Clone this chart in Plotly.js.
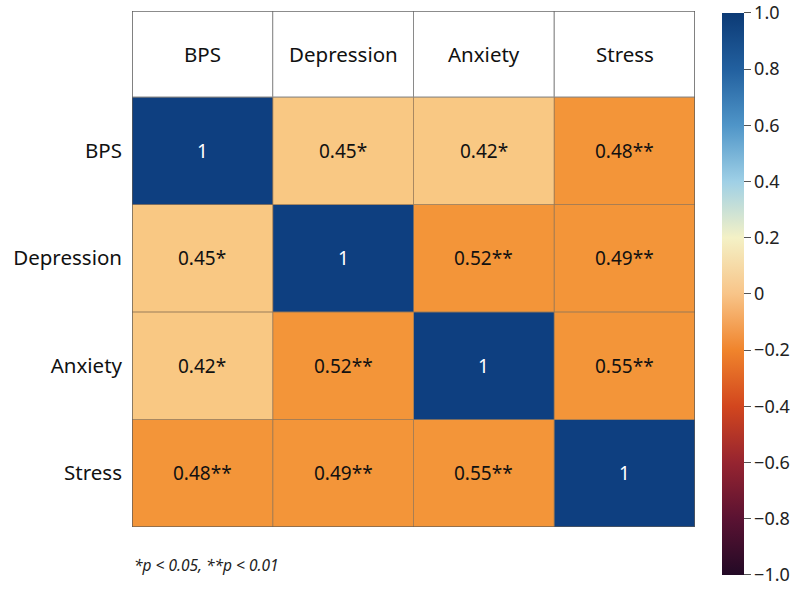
<!DOCTYPE html>
<html>
<head>
<meta charset="utf-8">
<script src="https://cdn.plot.ly/plotly-3.0.1.min.js"></script>
<style>html,body{margin:0;padding:0;background:#fff;}#chart{width:806px;height:589px;}</style>
</head>
<body>
<div id="chart"></div>
<script>
// ---- data ----
const variables = ["BPS", "Depression", "Anxiety", "Stress"];
const correlations = [
  [1, 0.45, 0.42, 0.48],
  [0.45, 1, 0.52, 0.49],
  [0.42, 0.52, 1, 0.55],
  [0.48, 0.49, 0.55, 1]
];
const cellLabels = [
  ["1", "0.45*", "0.42*", "0.48**"],
  ["0.45*", "1", "0.52**", "0.49**"],
  ["0.42*", "0.52**", "1", "0.55**"],
  ["0.48**", "0.49**", "0.55**", "1"]
];
const colorbarTicks = [1.0, 0.8, 0.6, 0.4, 0.2, 0, -0.2, -0.4, -0.6, -0.8, -1.0];
const colorbarTickText = ["1.0", "0.8", "0.6", "0.4", "0.2", "0", "\u22120.2", "\u22120.4", "\u22120.6", "\u22120.8", "\u22121.0"];
const footnote = "*p < 0.05, **p < 0.01";

// ---- styles ----
const FONT = "'Noto Sans', 'Open Sans', sans-serif";
const cellScale = [
  [0, "#f9c883"], [0.11, "#f9c883"],
  [0.12, "#f39539"], [0.3, "#f39539"],
  [0.31, "#0e3f80"], [1, "#0e3f80"]
];
const barScale = [
  [0.0, "#230a26"], [0.1, "#5a1232"], [0.2, "#962430"], [0.3, "#d2461e"],
  [0.4, "#f0842c"], [0.5, "#f8c488"], [0.6, "#f4f1c6"], [0.7, "#9fd0e6"],
  [0.8, "#4f95c8"], [0.9, "#22609f"], [1.0, "#0c3a75"]
];

const n = variables.length;
const idx = variables.map((_, i) => i);
const headerTop = -1.3;

const traces = [
  {
    type: "heatmap",
    x: idx, y: idx, z: correlations,
    colorscale: cellScale, zmin: 0.4, zmax: 1,
    showscale: false, hoverinfo: "skip"
  },
  {
    type: "scatter", mode: "markers",
    x: [1.5, 1.5], y: [1.5, 1.5],
    marker: {
      size: 1, opacity: 0, color: [-1, 1],
      colorscale: barScale, cmin: -1, cmax: 1, showscale: true,
      colorbar: {
        x: 1.048, xanchor: "left", xpad: 0,
        y: 0.4516, yanchor: "middle", ypad: 0,
        lenmode: "pixels", len: 562,
        thickness: 22, outlinewidth: 0,
        tickmode: "array", tickvals: colorbarTicks, ticktext: colorbarTickText,
        ticks: "outside", ticklen: 7, tickcolor: "#555",
        ticklabeloverflow: "allow",
        tickfont: {family: FONT, size: 18, color: "#222"}
      }
    },
    hoverinfo: "skip", showlegend: false
  }
];

const shapes = [];
const annotations = [];
// cell borders and cell labels
correlations.forEach((row, r) => {
  row.forEach((val, c) => {
    shapes.push({type: "rect", xref: "x", yref: "y",
      x0: c - 0.5, x1: c + 0.5, y0: r - 0.5, y1: r + 0.5,
      line: {color: "rgba(150,120,90,0.55)", width: 1}});
    annotations.push({xref: "x", yref: "y", x: c, y: r, text: cellLabels[r][c],
      showarrow: false,
      font: {family: FONT, size: 19, color: val >= 0.9 ? "#ffffff" : "#111111"}});
  });
});
// header row
variables.forEach((v, c) => {
  shapes.push({type: "rect", xref: "x", yref: "y",
    x0: c - 0.5, x1: c + 0.5, y0: headerTop, y1: -0.5,
    fillcolor: "#ffffff", line: {color: "#8a8a8a", width: 1}});
  annotations.push({xref: "x", yref: "y", x: c, y: (headerTop - 0.5) / 2,
    text: v, showarrow: false, font: {family: FONT, size: 20.5, color: "#111"}});
});
// outer border
shapes.push({type: "rect", xref: "x", yref: "y",
  x0: -0.5, x1: n - 0.5, y0: headerTop, y1: n - 0.5,
  line: {color: "#555", width: 1.2}});
// footnote
annotations.push({xref: "paper", yref: "paper", x: 0, y: -0.073, xanchor: "left", yanchor: "middle",
  text: "<i>" + footnote + "</i>", showarrow: false,
  font: {family: FONT, size: 15.5, color: "#222"}});

const layout = {
  width: 806, height: 589,
  margin: {l: 132, r: 111, t: 11, b: 62},
  paper_bgcolor: "#fff", plot_bgcolor: "#fff",
  xaxis: {range: [-0.5, n - 0.5], showgrid: false, zeroline: false, showticklabels: false, ticks: "", fixedrange: true},
  yaxis: {range: [n - 0.5, headerTop], showgrid: false, zeroline: false,
    tickmode: "array", tickvals: idx, ticktext: variables, ticks: "",
    ticklabelstandoff: 9,
    tickfont: {family: FONT, size: 20.5, color: "#111"}},
  shapes: shapes, annotations: annotations,
  showlegend: false
};

Plotly.newPlot("chart", traces, layout, {displayModeBar: false, staticPlot: true});
</script>
</body>
</html>
